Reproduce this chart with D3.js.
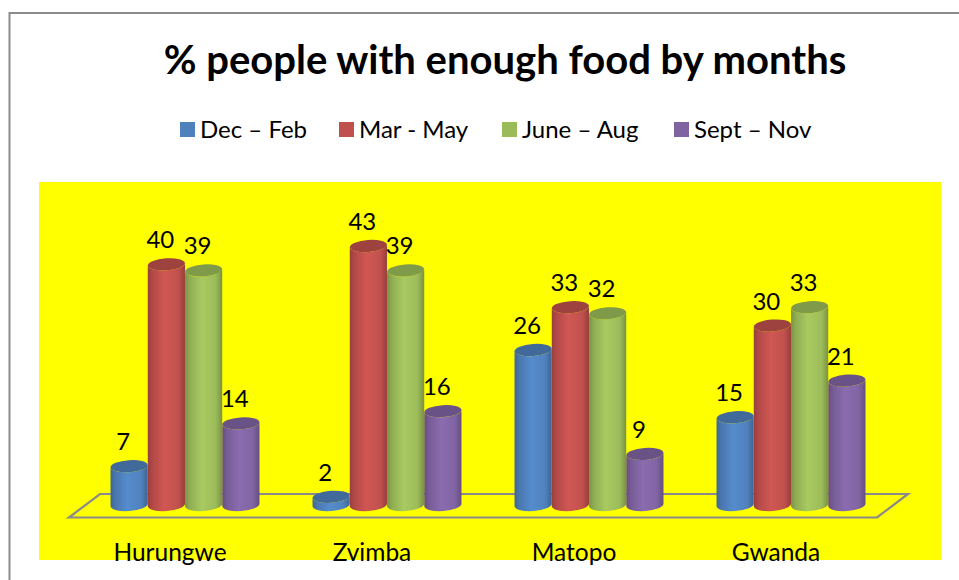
<!DOCTYPE html>
<html><head><meta charset="utf-8">
<script src="https://cdn.jsdelivr.net/npm/d3@7"></script>
<style>html,body{margin:0;padding:0;background:#fff}svg{display:block}text{font-family:Lato,"Open Sans",sans-serif;fill:#000}</style>
</head><body><svg id="c" width="959" height="580"></svg>
<script>
const titleText = "% people with enough food by months";
const categories = ["Hurungwe","Zvimba","Matopo","Gwanda"];
const seriesNames = ["Dec \u2013 Feb","Mar - May","June \u2013 Aug","Sept \u2013 Nov"];
const decFeb = [7,2,26,15];
const marMay = [40,43,33,30];
const juneAug = [39,39,32,33];
const septNov = [14,16,9,21];
const seriesValues = [decFeb,marMay,juneAug,septNov];
const baseColors = ["#4F81BD","#C0504D","#9BBB59","#8064A2"];
const legendX = [180,339,502,674];

const svg = d3.select("#c");
const defs = svg.append("defs");
baseColors.forEach((c,i)=>{
  const g = defs.append("linearGradient").attr("id","g"+i).attr("x1","0").attr("x2","1").attr("y1","0").attr("y2","0");
  const col = d3.color(c);
  [[0,col.darker(0.65)],[0.14,col.darker(0.2)],[0.45,col.brighter(0.22)],[0.82,col.brighter(0.02)],[1,col.darker(0.7)]]
    .forEach(([o,k])=>g.append("stop").attr("offset",o).attr("stop-color",k.formatHex()));
});

// frame: left and top edges only, as in the reference
svg.append("path").attr("d","M9.5,580V13H959").attr("fill","none").attr("stroke","#8c8c8c").attr("stroke-width",2);
// plot background
svg.append("rect").attr("x",39).attr("y",182).attr("width",902).attr("height",378).attr("fill","#ffff00");

// title
svg.append("text").attr("x",505).attr("y",74).attr("text-anchor","middle").attr("font-size",40).attr("font-weight",700).text(titleText);

// legend
const lg = svg.selectAll("g.lg").data(seriesNames).join("g").attr("class","lg");
lg.append("rect").attr("x",(d,i)=>legendX[i]).attr("y",122).attr("width",15).attr("height",15).attr("fill",(d,i)=>baseColors[i]);
lg.append("text").attr("x",(d,i)=>legendX[i]+20).attr("y",138).attr("font-size",24).text(d=>d);

// scales
const x0 = d3.scaleBand().domain(categories).range([84,892]).padding(0);
const x1 = d3.scaleBand().domain(d3.range(seriesNames.length)).range([26.5,175.5]).paddingInner(0).paddingOuter(0);
const y = d3.scaleLinear().domain([0,43]).range([509,246]);

// floor
svg.append("path").attr("d",`M${x0.range()[0]-15},517.5L${x0.range()[0]+16},494H908L877,517.5Z`)
  .attr("fill","none").attr("stroke","#8a8a8a").attr("stroke-width",2.2).attr("stroke-linejoin","miter");

const rx = 18.6, ry = 6, tilt = -4;
const d = Math.tan(tilt*Math.PI/180)*rx;
categories.forEach((cat,ci)=>{
  seriesValues.forEach((vals,si)=>{
    const v = vals[ci];
    const cx = x0(cat)+x1(si)+x1.bandwidth()/2;
    const yt = y(v), yb = y(0)-4;
    const col = d3.color(baseColors[si]);
    svg.append("path")
      .attr("d",`M${cx-rx},${yt-d}L${cx-rx},${yb-d}A${rx},${ry} ${tilt} 0 0 ${cx+rx},${yb+d}L${cx+rx},${yt+d}A${rx},${ry} ${tilt} 0 1 ${cx-rx},${yt-d}Z`)
      .attr("fill",`url(#g${si})`);
    svg.append("ellipse").attr("cx",0).attr("cy",0).attr("rx",rx).attr("ry",ry)
      .attr("transform",`translate(${cx},${yt}) rotate(${tilt})`)
      .attr("fill",col.darker(0.55).formatHex());
    svg.append("text").attr("x",cx-6).attr("y",yt-16).attr("text-anchor","middle").attr("font-size",24).text(v);
  });
});

// category labels
svg.selectAll("text.cat").data(categories).join("text").attr("class","cat")
  .attr("x",c=>x0(c)+x0.bandwidth()/2-15).attr("y",561).attr("text-anchor","middle").attr("font-size",24.5).text(c=>c);
</script></body></html>
